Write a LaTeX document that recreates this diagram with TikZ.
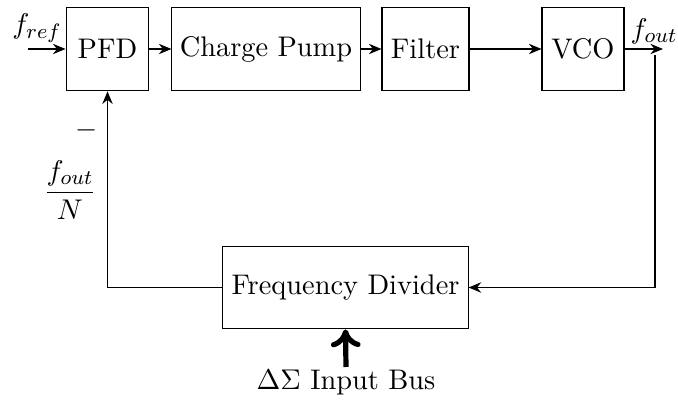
\documentclass[tikz,border=0pt]{standalone}
\usepackage{amsmath,amssymb}
\usepackage{tikz}
\usetikzlibrary{arrows.meta,positioning,calc}
\tikzset{
  blockbox/.style={draw=black,fill=white,align=center,inner sep=0pt,
    minimum height=1.13cm,font=\fontsize{10.9}{13}\selectfont},
  signalarrow/.style={-{Stealth[length=1.7mm,width=1.4mm]},thin},
  feedline/.style={semithick},
  busarrow/.style={-{To[length=2.4mm,width=4mm]},line width=2pt},
  signallabel/.style={font=\fontsize{10.9}{13}\selectfont,inner sep=1pt}
}
\begin{document}
\begin{tikzpicture}[x=0.0135cm,y=-0.0135cm]
  \useasboundingbox (0,0) rectangle (678,403);
  \node[blockbox,minimum width=1.12cm] (pfd) at (107.5,49) {PFD};
  \node[blockbox,minimum width=2.54cm] (pump) at (266,49) {Charge Pump};
  \node[blockbox,minimum width=1.175cm] (filter) at (425.5,49) {Filter};
  \node[blockbox,minimum width=1.107cm] (vco) at (583,49) {VCO};
  \node[blockbox,minimum width=3.31cm,minimum height=1.12cm] (divider) at (345.5,287.5)
    {Frequency Divider};
  \coordinate (refin) at (28,49);
  \coordinate (outend) at (663,49);
  \coordinate (tap) at (655,49);
  \coordinate (busin) at (346,367);
  % forward path
  \draw[signalarrow] (refin) -- (pfd.west);
  \draw[signalarrow] (pfd) -- (pump);
  \draw[signalarrow] (pump) -- (filter);
  \draw[signalarrow] (filter) -- (vco);
  \draw[signalarrow] (vco.east) -- (outend);
  % feedback path
  \draw[feedline,-{Stealth[length=1.7mm,width=1.4mm]}] ($(tap)+(0,6)$) |- (divider.east);
  \draw[feedline,-{Stealth[length=1.7mm,width=1.4mm]}] (divider.west) -| (pfd.south);
  \draw[busarrow] (busin) -- (divider.south);
  % labels
  \node[signallabel] (fref) at (37,28) {$f_{ref}$};
  \node[signallabel] (fout) at (654,31) {$f_{out}$};
  \node[signallabel] (minus) at (87,130) {$-$};
  \node[signallabel] (fdiv) at (70,190) {$\dfrac{f_{out}}{N}$};
  \node[signallabel] (bus) at (346,383) {$\Delta\Sigma$ Input Bus};
\end{tikzpicture}
\end{document}
